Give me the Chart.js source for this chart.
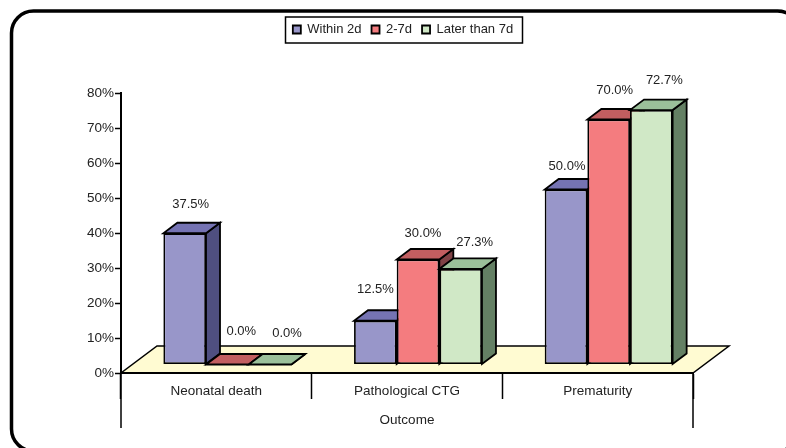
<!DOCTYPE html>
<html>
<head>
<meta charset="utf-8">
<style>html,body{margin:0;padding:0;background:#fff;overflow:hidden}canvas{display:block}</style>
<script src="https://cdn.jsdelivr.net/npm/chart.js@4"></script>
</head>
<body>
<canvas id="c" width="786" height="448"></canvas>
<script>
const categories = ['Neonatal death', 'Pathological CTG', 'Prematurity'];
const seriesNames = ['Within 2d', '2-7d', 'Later than 7d'];
const within2d = [37.5, 12.5, 50.0];
const days2to7 = [0.0, 30.0, 70.0];
const later7d = [0.0, 27.3, 72.7];
const axisTitle = 'Outcome';

const FONT = '"Liberation Sans", Arial, sans-serif';
const TEXT = '#222222';
const faces = [
  {front:'#9896C9', top:'#7573B3', side:'#4F4F80'},
  {front:'#F47C7F', top:'#C25E60', side:'#7F4245'},
  {front:'#D0E8C6', top:'#9BC09A', side:'#648064'}
];
const SHIFT = {x:11, y:-8.5};      // front plane of the bars relative to the axes
const DEPTH = {x:14, y:-10.5};     // depth of a bar
const FLOOR = {x:36, y:-27};       // depth of the floor
const labelNudge = [
  {x:[6,0,1],    y:[-37,-40,-32]},
  {x:[14,5,6],   y:[-42,-35,-38]},
  {x:[17,14,13], y:[-40,-35,-38]}
];

function poly(ctx, pts, fill, lw){
  ctx.beginPath();
  pts.forEach((p,i)=> i ? ctx.lineTo(p[0],p[1]) : ctx.moveTo(p[0],p[1]));
  ctx.closePath();
  ctx.fillStyle = fill; ctx.fill();
  ctx.lineWidth = lw; ctx.strokeStyle = '#000'; ctx.lineJoin = 'miter'; ctx.stroke();
}

const scene = {
  id:'scene',
  beforeLayout(chart){
    const lg = chart.legend;
    if (lg && !lg._patched){
      const fit = lg.fit;
      lg.fit = function(){ fit.call(this); this.height = 93; };
      lg._patched = true;
    }
  },
  afterLayout(chart){
    const lg = chart.legend;
    lg.left = 253; lg.right = 553; lg.top = 13; lg.bottom = 46;
  },
  beforeDraw(chart){
    const ctx = chart.ctx, a = chart.chartArea;
    ctx.save();
    // outer frame
    ctx.beginPath();
    ctx.roundRect(11.5, 11, 788, 440, 22);
    ctx.lineWidth = 3.5; ctx.strokeStyle = '#000'; ctx.stroke();
    // floor
    poly(ctx, [[a.left,a.bottom],[a.right,a.bottom],[a.right+FLOOR.x,a.bottom+FLOOR.y],[a.left+FLOOR.x,a.bottom+FLOOR.y]], '#FFFBD2', 1.5);
    // legend box
    ctx.lineWidth = 1.5; ctx.strokeStyle = '#000';
    ctx.strokeRect(285.5, 17, 237, 26);
    ctx.restore();
  },
  beforeDatasetsDraw(chart){
    const ctx = chart.ctx, a = chart.chartArea;
    // bars, left to right, so each one covers the side of the previous one
    chart.data.datasets.forEach((ds,i)=>{
      const meta = chart.getDatasetMeta(i), f = faces[i];
      ctx.save();
      ctx.translate(SHIFT.x, SHIFT.y);
      meta.data.forEach(b=>{
        const l = b.x-b.width/2, r = b.x+b.width/2, t = b.y, g = b.base;
        poly(ctx, [[r,t],[r+DEPTH.x,t+DEPTH.y],[r+DEPTH.x,g+DEPTH.y],[r,g]], f.side, 1.8);
        poly(ctx, [[l,t],[r,t],[r+DEPTH.x,t+DEPTH.y],[l+DEPTH.x,t+DEPTH.y]], f.top, 1.8);
      });
      meta.controller.draw();
      ctx.restore();
    });
    ctx.save();
    // outer dividers of the two-level category axis
    ctx.strokeStyle = '#000'; ctx.lineWidth = 1.5;
    [a.left, a.right].forEach(x=>{
      ctx.beginPath(); ctx.moveTo(x, a.bottom); ctx.lineTo(x, 428); ctx.stroke();
    });
    // value labels
    ctx.font = '13px ' + FONT; ctx.fillStyle = TEXT;
    ctx.textAlign = 'center'; ctx.textBaseline = 'middle';
    chart.data.datasets.forEach((ds,i)=>{
      chart.getDatasetMeta(i).data.forEach((b,j)=>{
        ctx.fillText(ds.data[j].toFixed(1)+'%', b.x+SHIFT.x+labelNudge[i].x[j], b.y+labelNudge[i].y[j]);
      });
    });
    ctx.restore();
    return false;
  }
};

const seriesValues = [within2d, days2to7, later7d];
new Chart(document.getElementById('c'), {
  type:'bar',
  plugins:[scene],
  data:{
    labels:categories,
    datasets:seriesNames.map((name,i)=>({
      label:name,
      data:seriesValues[i],
      backgroundColor:faces[i].front,
      borderColor:'#000',
      borderWidth:1.8,
      borderSkipped:false,
      barPercentage:1,
      categoryPercentage:0.671
    }))
  },
  options:{
    responsive:false,
    animation:false,
    layout:{padding:{left:0,right:93,top:0,bottom:0}},
    plugins:{
      tooltip:{enabled:false},
      legend:{
        position:'top',
        labels:{boxWidth:8,boxHeight:8,padding:10,color:TEXT,font:{family:FONT,size:13}}
      }
    },
    scales:{
      x:{
        offset:true,
        afterFit(s){ s.height = 75; },
        grid:{drawOnChartArea:false,offset:true,tickLength:26,tickColor:'#000',tickWidth:1.5},
        border:{color:'#000',width:2},
        ticks:{padding:-16,color:TEXT,font:{family:FONT,size:13.5},maxRotation:0},
        title:{display:true,text:axisTitle,color:TEXT,font:{family:FONT,size:13.5},padding:{top:0,bottom:20}}
      },
      y:{
        min:0,max:80,
        afterFit(s){ s.width = 121; },
        grid:{drawOnChartArea:false,tickLength:6,tickColor:'#000',tickWidth:1.5},
        border:{color:'#000',width:2},
        ticks:{stepSize:10,padding:1,color:TEXT,font:{family:FONT,size:13.5},callback:v=>v+'%'}
      }
    }
  }
});
</script>
</body>
</html>
